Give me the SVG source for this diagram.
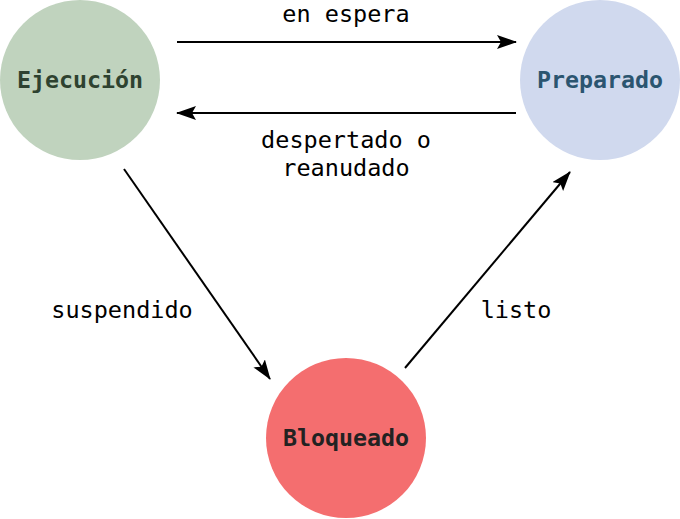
<svg xmlns="http://www.w3.org/2000/svg" width="680" height="519" viewBox="0 0 680 519">
<defs>
<marker id="ah" viewBox="0 0 20 14" refX="19" refY="7" markerWidth="20" markerHeight="14" markerUnits="userSpaceOnUse" orient="auto">
<path d="M0,0 L20,7 L0,14 L4,7 Z" fill="#000"/>
</marker>
<style>
.node-label{font-family:"DejaVu Sans Mono",monospace;font-weight:bold;font-size:23.3px;text-anchor:middle}
.edge{stroke:#000;stroke-width:2;fill:none;marker-end:url(#ah)}
.elabel{font-family:"DejaVu Sans Mono",monospace;font-size:23.5px;text-anchor:middle;fill:#000}
</style>
</defs>
<rect width="680" height="519" fill="#fff"/>
<g id="connectors">
<line class="edge" x1="177" y1="42" x2="516" y2="42"/>
<line class="edge" x1="516" y1="113" x2="177" y2="113"/>
<line class="edge" x1="124" y1="169" x2="270" y2="379"/>
<line class="edge" x1="405" y1="368" x2="570" y2="172"/>
<text class="elabel" x="346" y="22">en espera</text>
<text class="elabel" x="346" y="148">despertado o</text>
<text class="elabel" x="346" y="176">reanudado</text>
<text class="elabel" x="122" y="318">suspendido</text>
<text class="elabel" x="516" y="318">listo</text>
</g>
<g id="ejecucion">
<circle cx="80" cy="80" r="80" fill="#c0d3be"/>
<text class="node-label" x="80" y="88" fill="#2e4230">Ejecución</text>
</g>
<g id="preparado">
<circle cx="600" cy="80" r="80" fill="#d0d9ee"/>
<text class="node-label" x="600" y="88" fill="#2b5570">Preparado</text>
</g>
<g id="bloqueado">
<circle cx="346" cy="438" r="80" fill="#f46e6f"/>
<text class="node-label" x="346" y="446" fill="#222222">Bloqueado</text>
</g>
</svg>
